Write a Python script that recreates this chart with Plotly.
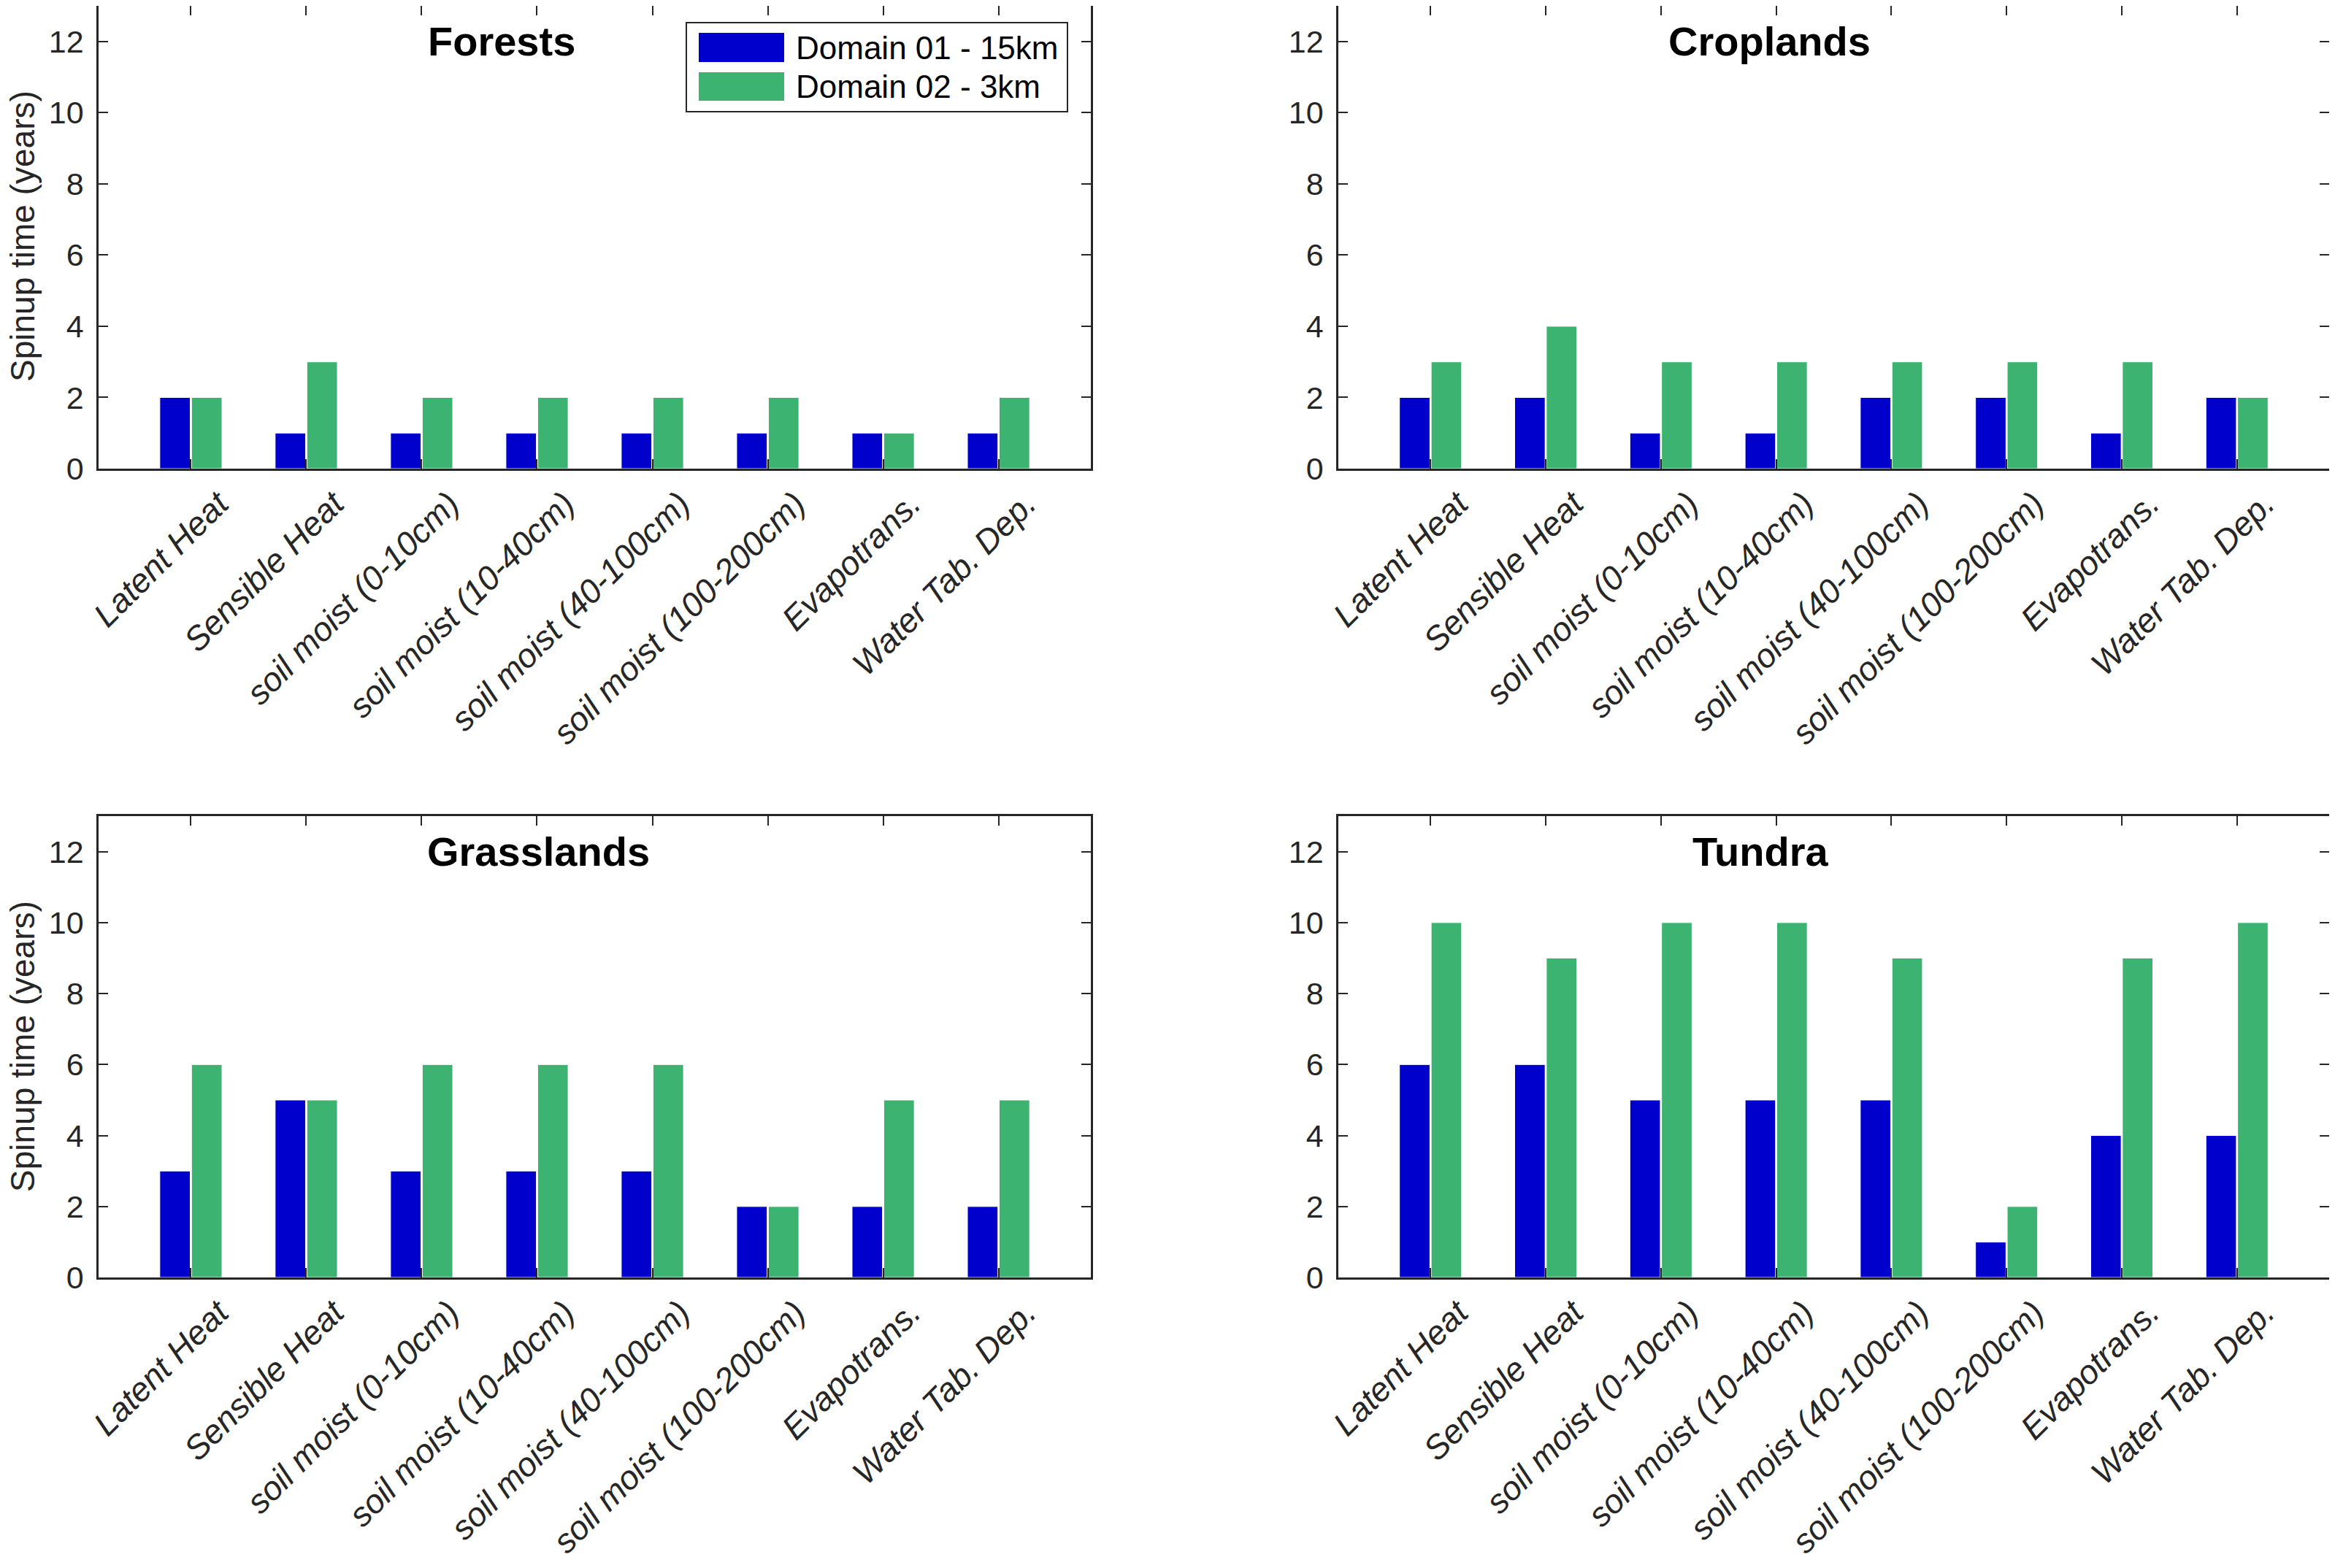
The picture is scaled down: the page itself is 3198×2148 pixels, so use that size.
import plotly.graph_objects as go
from plotly.subplots import make_subplots

categories = [
    "Latent Heat", "Sensible Heat", "soil moist (0-10cm)", "soil moist (10-40cm)",
    "soil moist (40-100cm)", "soil moist (100-200cm)", "Evapotrans.", "Water Tab. Dep.",
]
series_names = ["Domain 01 - 15km", "Domain 02 - 3km"]
series_colors = ["#0000CC", "#3CB371"]

panels = ["Forests", "Croplands", "Grasslands", "Tundra"]
y_title = "Spinup time (years)"

forests_d01 = [2, 1, 1, 1, 1, 1, 1, 1]
forests_d02 = [2, 3, 2, 2, 2, 2, 1, 2]
croplands_d01 = [2, 2, 1, 1, 2, 2, 1, 2]
croplands_d02 = [3, 4, 3, 3, 3, 3, 3, 2]
grasslands_d01 = [3, 5, 3, 3, 3, 2, 2, 2]
grasslands_d02 = [6, 5, 6, 6, 6, 2, 5, 5]
tundra_d01 = [6, 6, 5, 5, 5, 1, 4, 4]
tundra_d02 = [10, 9, 10, 10, 9, 2, 9, 10]

panel_data = [
    (forests_d01, forests_d02),
    (croplands_d01, croplands_d02),
    (grasslands_d01, grasslands_d02),
    (tundra_d01, tundra_d02),
]

# the page body has an 8px margin, so draw the figure 16px smaller
PAGE_OFF = 8
W, H = 3198 - 2 * PAGE_OFF, 2148 - 2 * PAGE_OFF
FONT = "Liberation Sans, Arial, Helvetica, sans-serif"
INK = "#262626"


def px(xp):
    # screen pixel -> paper x
    return (xp - PAGE_OFF) / W


def py(yp):
    # screen pixel (from top) -> paper y
    return 1 - (yp - PAGE_OFF) / H


# plot areas in screen pixels (left, right, top, bottom)
boxes = [
    (135, 1494, 6, 642),
    (1833, 3190, 6, 642),
    (135, 1494, 1118, 1750),
    (1833, 3190, 1118, 1750),
]
# title centre x (screen pixels) for each panel
title_x_px = [687, 2423, 737, 2411]

fig = make_subplots(rows=2, cols=2)

for i, (d01, d02) in enumerate(panel_data):
    r, c = i // 2 + 1, i % 2 + 1
    for vals, name, col in zip((d01, d02), series_names, series_colors):
        fig.add_trace(go.Bar(
            x=categories, y=vals, name=name, showlegend=False,
            marker=dict(color=col, line=dict(color="white", width=1)),
        ), row=r, col=c)

for i in range(4):
    l, rr, t, b = boxes[i]
    xa = "xaxis" if i == 0 else f"xaxis{i + 1}"
    ya = "yaxis" if i == 0 else f"yaxis{i + 1}"
    fig.layout[xa].update(
        domain=[max(px(l), 0), min(px(rr), 1)], range=[-0.8, 7.8], automargin=False,
        showline=True, linecolor=INK, linewidth=2.5, mirror="ticks",
        ticks="inside", ticklen=13, tickwidth=2, tickcolor=INK,
        tickangle=-45, ticklabelstandoff=0, ticklabelshift=38,
        tickfont=dict(family=FONT, size=46, color=INK, style="italic"),
        showgrid=False, zeroline=False,
    )
    fig.layout[ya].update(
        domain=[max(py(b), 0), min(py(t), 1)], range=[0, 13], dtick=2, automargin=False,
        showline=True, linecolor=INK, linewidth=2.5, mirror="ticks",
        ticks="inside", ticklen=13, tickwidth=2, tickcolor=INK,
        ticklabelstandoff=9,
        tickfont=dict(family=FONT, size=43, color=INK),
        showgrid=False, zeroline=False,
    )
    if i % 2 == 0:
        fig.add_annotation(
            text=y_title, xref="paper", yref="paper", textangle=-90,
            x=px(31), y=py((t + b) / 2), xanchor="center", yanchor="middle",
            showarrow=False, font=dict(family=FONT, size=46, color=INK),
        )
    fig.add_annotation(
        text=f"<b>{panels[i]}</b>", xref="paper", yref=ya.replace("axis", ""),
        x=px(title_x_px[i]), y=12, xanchor="center", yanchor="middle",
        showarrow=False, font=dict(family=FONT, size=56, color="black"),
    )

# legend box inside the first panel (screen pixel layout)
fig.add_shape(type="rect", xref="paper", yref="paper",
              x0=px(940), x1=px(1462), y0=py(153), y1=py(31),
              line=dict(color=INK, width=2), fillcolor="white")
rows_px = [(45, 85), (99, 138)]
for (y0, y1), name, col in zip(rows_px, series_names, series_colors):
    fig.add_shape(type="rect", xref="paper", yref="paper",
                  x0=px(957), x1=px(1074), y0=py(y1), y1=py(y0),
                  line=dict(width=0), fillcolor=col)
    fig.add_annotation(text=name, xref="paper", yref="paper",
                       x=px(1088), y=py((y0 + y1) / 2), xanchor="left", yanchor="middle",
                       showarrow=False, font=dict(family=FONT, size=44, color="black"))

fig.update_layout(
    width=W, height=H, margin=dict(l=0, r=0, t=0, b=0),
    paper_bgcolor="white", plot_bgcolor="white",
    barmode="group", bargap=0.45, bargroupgap=0.04,
)

fig.write_html("out.html")
